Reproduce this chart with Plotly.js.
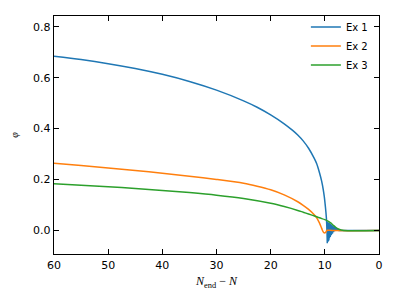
<!DOCTYPE html>
<html>
<head>
<meta charset="utf-8">
<script src="https://cdn.plot.ly/plotly-3.0.1.min.js"></script>
<style>html,body{margin:0;padding:0;background:#fff;}#chart{width:395px;height:302px;}</style>
</head>
<body>
<div id="chart"></div>
<script>
const seriesNames = ["Ex 1", "Ex 2", "Ex 3"];
const seriesColors = ["#1f77b4", "#ff7f0e", "#2ca02c"];

// Ex 1: smooth decline, then the damped oscillation after the drop
const ex1N = [60, 55, 50, 45, 40, 35, 30, 25, 22.5, 20, 17.5, 16, 15, 14, 13, 12, 11.5, 11, 10.6, 10.3, 10.1, 9.95, 9.8, 9.7, 9.65, 9.6];
const ex1Phi = [0.684, 0.671, 0.655, 0.636, 0.613, 0.585, 0.551, 0.509, 0.484, 0.454, 0.419, 0.394, 0.375, 0.352, 0.323, 0.285, 0.262, 0.228, 0.195, 0.162, 0.133, 0.105, 0.072, 0.045, 0.024, 0.0];
const ex1OscN = [9.6, 9.55, 9.5, 9.45, 9.4, 9.35, 9.3, 9.25, 9.2, 9.15, 9.1, 9.0, 8.9, 8.8, 8.7, 8.6, 8.5, 8.4, 8.3, 8.2, 8.1,
  8.0, 7.9, 7.8, 7.7, 7.6, 7.5, 7.4, 7.3, 7.2, 0];
const ex1OscPhi = [0.0, -0.050, 0.035, -0.045, 0.033, -0.040, 0.031, -0.035, 0.030, -0.030, 0.028, -0.025, 0.026, -0.018, 0.022, -0.012, 0.019, -0.006, 0.016, -0.002, 0.013,
  0.0, 0.010, 0.0, 0.007, 0.0, 0.005, 0.0, 0.002, 0.0, 0.0];

const ex2N = [60, 55, 50, 45, 40, 35, 30, 25, 22.5, 20, 17.5, 15, 14, 13, 12, 11.5, 11, 10.7, 10.5, 10.3, 10.1, 9.9, 9.7, 9.5, 9.0, 8.0, 0];
const ex2Phi = [0.264, 0.255, 0.2455, 0.2355, 0.225, 0.2135, 0.2005, 0.1855, 0.174, 0.160, 0.140, 0.113, 0.099, 0.083, 0.063, 0.050, 0.030, 0.015, 0.004, -0.005, -0.009, -0.008, -0.002, 0.001, 0.001, 0.0, 0.0];

const ex3N = [60, 55, 50, 45, 40, 35, 30, 25, 20, 17.5, 15, 14, 13, 12, 11, 10, 9.5, 9, 8.5, 8, 7.5, 7, 6.5, 0];
const ex3Phi = [0.184, 0.178, 0.172, 0.165, 0.1575, 0.149, 0.139, 0.126, 0.107, 0.094, 0.079, 0.072, 0.065, 0.058, 0.050, 0.043, 0.038, 0.031, 0.022, 0.013, 0.006, 0.002, 0.0, 0.0];

const xTicks = [60, 50, 40, 30, 20, 10, 0];
const yTicks = [0.0, 0.2, 0.4, 0.6, 0.8];

const traces = [
  {x: ex1N, y: ex1Phi, name: seriesNames[0], legendgroup: "ex1", type: "scatter", mode: "lines",
   line: {color: seriesColors[0], width: 1.5, shape: "spline", smoothing: 0.8}},
  {x: ex1OscN, y: ex1OscPhi, name: seriesNames[0], legendgroup: "ex1", showlegend: false, type: "scatter", mode: "lines",
   line: {color: seriesColors[0], width: 1.5}},
  {x: ex2N, y: ex2Phi, name: seriesNames[1], type: "scatter", mode: "lines",
   line: {color: seriesColors[1], width: 1.5, shape: "spline", smoothing: 0.8}},
  {x: ex3N, y: ex3Phi, name: seriesNames[2], type: "scatter", mode: "lines",
   line: {color: seriesColors[2], width: 1.5, shape: "spline", smoothing: 0.8}}
];

const axisCommon = {
  showline: true, linecolor: "#000", linewidth: 1.3, mirror: "ticks",
  ticks: "inside", ticklen: 5, tickwidth: 1.3, tickcolor: "#000",
  showgrid: false, zeroline: false,
  tickfont: {family: "DejaVu Sans", size: 11, color: "#000"}
};

const layout = {
  width: 395, height: 302,
  margin: {l: 54, r: 16, t: 12, b: 48},
  paper_bgcolor: "#fff", plot_bgcolor: "#fff",
  showlegend: true,
  legend: {x: 0.775, y: 1.015, xanchor: "left", yanchor: "top", bgcolor: "rgba(0,0,0,0)",
    font: {family: "DejaVu Sans", size: 10, color: "#000"}, tracegroupgap: 0},
  xaxis: Object.assign({}, axisCommon, {
    range: [60, 0], tickvals: xTicks, ticktext: xTicks.map(String),
    title: {text: "<i>N</i><sub>end</sub> − <i>N</i>", font: {family: "Liberation Serif", size: 12, color: "#000"}, standoff: 6}
  }),
  yaxis: Object.assign({}, axisCommon, {
    range: [-0.092, 0.842], tickvals: yTicks, ticktext: yTicks.map(v => v.toFixed(1)),
    title: {text: "<i>φ</i>", font: {family: "Liberation Serif", size: 10, color: "#000"}, standoff: 12}
  })
};

Plotly.newPlot("chart", traces, layout, {displayModeBar: false, staticPlot: true});
</script>
</body>
</html>
